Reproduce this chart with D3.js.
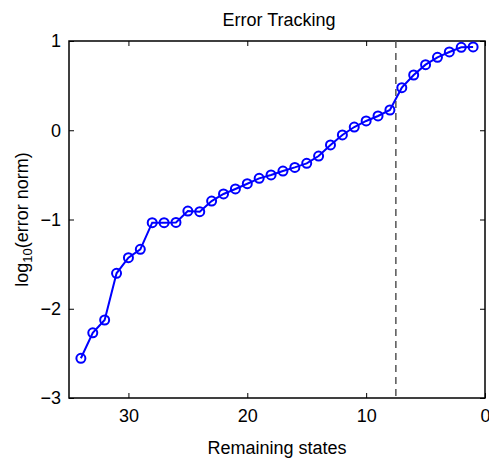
<!DOCTYPE html>
<html>
<head>
<meta charset="utf-8">
<script src="https://cdn.jsdelivr.net/npm/d3@7"></script>
<style>
  body { margin: 0; background: #fff; }
  svg text { font-family: "Liberation Sans", Arial, sans-serif; fill: #000; }
</style>
</head>
<body>
<svg id="chart" width="489" height="461"></svg>
<script>
// remaining states (x) and log10 error norm (y)
var states = [34, 33, 32, 31, 30, 29, 28, 27, 26, 25, 24, 23, 22, 21, 20, 19, 18,
              17, 16, 15, 14, 13, 12, 11, 10, 9, 8, 7, 6, 5, 4, 3, 2, 1];
var logErr = [-2.555, -2.27, -2.126, -1.603, -1.428, -1.334, -1.036, -1.036, -1.033,
              -0.905, -0.912, -0.793, -0.714, -0.658, -0.599, -0.539, -0.501,
              -0.457, -0.416, -0.371, -0.289, -0.165, -0.053, 0.036, 0.104, 0.16,
              0.227, 0.477, 0.619, 0.735, 0.817, 0.877, 0.929, 0.933];
var xTicks = [30, 20, 10, 0];
var yTicks = [1, 0, -1, -2, -3];
var cutoff = 7.5;

// plot box (window.top is reserved, so use a prefix)
var mLeft = 69, mRight = 485, mTop = 41, mBottom = 398;
var FS = "18px";
var svg = d3.select("#chart");

var x = d3.scaleLinear().domain([35, 0]).range([mLeft, mRight]);
var y = d3.scaleLinear().domain([-3, 1]).range([mBottom, mTop]);

var fmt = function(d) { return d < 0 ? "\u2212" + Math.abs(d) : d; };

// axes with inward ticks
svg.append("g")
  .attr("transform", "translate(0," + mBottom + ")")
  .call(d3.axisBottom(x).tickValues(xTicks).tickSizeInner(-5).tickSizeOuter(0).tickPadding(11))
  .call(function(g) { g.select(".domain").remove(); });

svg.append("g")
  .attr("transform", "translate(0," + mTop + ")")
  .call(d3.axisTop(x).tickValues(xTicks).tickSizeInner(-5).tickSizeOuter(0).tickFormat(""))
  .call(function(g) { g.select(".domain").remove(); });

svg.append("g")
  .attr("transform", "translate(" + mLeft + ",0)")
  .call(d3.axisLeft(y).tickValues(yTicks).tickSizeInner(-5).tickSizeOuter(0).tickPadding(8).tickFormat(fmt))
  .call(function(g) { g.select(".domain").remove(); });

svg.append("g")
  .attr("transform", "translate(" + mRight + ",0)")
  .call(d3.axisRight(y).tickValues(yTicks).tickSizeInner(-5).tickSizeOuter(0).tickFormat(""))
  .call(function(g) { g.select(".domain").remove(); });

svg.selectAll(".tick text").style("font-size", FS).style("font-family", "Liberation Sans, Arial, sans-serif");
svg.selectAll(".tick line").attr("stroke", "#000");

// frame
svg.append("rect")
  .attr("x", mLeft).attr("y", mTop)
  .attr("width", mRight - mLeft).attr("height", mBottom - mTop)
  .attr("fill", "none").attr("stroke", "#000").attr("stroke-width", 1.5);

// dashed cutoff line
svg.append("line")
  .attr("x1", x(cutoff)).attr("x2", x(cutoff))
  .attr("y1", y(1)).attr("y2", y(-3))
  .attr("stroke", "#555").attr("stroke-width", 1.5)
  .attr("stroke-dasharray", "7,5");

var pts = states.map(function(s, i) { return [s, logErr[i]]; });

svg.append("path")
  .datum(pts)
  .attr("fill", "none")
  .attr("stroke", "#0000ff")
  .attr("stroke-width", 2)
  .attr("d", d3.line().x(function(d) { return x(d[0]); }).y(function(d) { return y(d[1]); }));

svg.selectAll("circle.pt")
  .data(pts)
  .enter()
  .append("circle")
  .attr("class", "pt")
  .attr("cx", function(d) { return x(d[0]); })
  .attr("cy", function(d) { return y(d[1]); })
  .attr("r", 4.5)
  .attr("fill", "none")
  .attr("stroke", "#0000ff")
  .attr("stroke-width", 2);

// title and labels
svg.append("text")
  .attr("x", 279).attr("y", 26)
  .attr("text-anchor", "middle")
  .style("font-size", FS)
  .text("Error Tracking");

svg.append("text")
  .attr("x", 277).attr("y", 454)
  .attr("text-anchor", "middle")
  .style("font-size", FS)
  .text("Remaining states");

var yl = svg.append("text")
  .attr("transform", "translate(28," + ((mTop + mBottom) / 2) + ") rotate(-90)")
  .attr("text-anchor", "middle")
  .style("font-size", FS);
yl.append("tspan").text("log");
yl.append("tspan").attr("dy", 4).style("font-size", "13px").text("10");
yl.append("tspan").attr("dy", -4).text("(error norm)");
</script>
</body>
</html>
